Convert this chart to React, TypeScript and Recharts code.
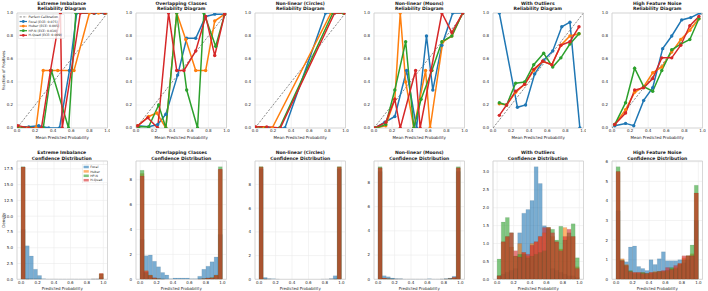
import React from 'react';
import { LineChart, ComposedChart, Line, Bar, XAxis, YAxis, CartesianGrid, ReferenceArea, Label } from 'recharts';

type Pt = [number, number];

const SERIES_NAMES = ['Focal', 'Huber', 'HP-N', 'H-Quad'];
const SERIES_COLORS = ['#1f77b4', '#ff7f0e', '#2ca02c', '#d62728'];
const ECE_LABELS = ['0.075', '0.005', '0.010', '0.009'];
const DATASETS = ['Extreme Imbalance', 'Overlapping Classes', 'Non-linear (Circles)', 'Non-linear (Moons)', 'With Outliers', 'High Feature Noise'];
const REL_TICKS = [0, 0.2, 0.4, 0.6, 0.8, 1.0];
const HIST_X_TICKS = [0, 0.2, 0.4, 0.6, 0.8, 1.0];
const BIN_CENTERS = [0.025, 0.075, 0.125, 0.175, 0.225, 0.275, 0.325, 0.375, 0.425, 0.475, 0.525, 0.575, 0.625, 0.675, 0.725, 0.775, 0.825, 0.875, 0.925, 0.975];
const DIAGONAL: Pt[] = [[0, 0], [1, 1]];

// ---- Reliability curves (mean predicted prob, fraction of positives)
const relImbFocal: Pt[] = [[0.02, 0.01], [0.13, 0.01], [0.24, 0.02], [0.35, 0.0], [0.47, 0.0], [0.58, 0.5], [0.66, 1.0], [0.86, 1.0], [0.96, 1.0]];
const relImbHuber: Pt[] = [[0.02, 0.01], [0.12, 0.0], [0.21, 0.0], [0.29, 0.5], [0.45, 0.5], [0.63, 0.5], [0.8, 1.0], [0.9, 1.0], [0.98, 1.0]];
const relImbHPN: Pt[] = [[0.01, 0.01], [0.14, 0.0], [0.29, 0.0], [0.38, 0.5], [0.57, 0.0], [0.65, 1.0], [0.85, 1.0], [0.97, 1.0]];
const relImbHQuad: Pt[] = [[0.01, 0.02], [0.13, 0.0], [0.27, 0.0], [0.37, 0.5], [0.48, 1.0], [0.5, 0.0], [0.7, 1.0], [0.85, 1.0], [0.97, 1.0]];

const relOvlFocal: Pt[] = [[0.02, 0.02], [0.14, 0.01], [0.24, 0.03], [0.33, 0.12], [0.46, 0.46], [0.56, 0.78], [0.66, 0.78], [0.77, 0.97], [0.87, 0.99], [0.98, 0.99]];
const relOvlHuber: Pt[] = [[0.02, 0.02], [0.14, 0.1], [0.23, 0.13], [0.33, 0.0], [0.45, 1.0], [0.55, 0.77], [0.66, 0.5], [0.77, 0.5], [0.87, 0.93], [0.98, 0.99]];
const relOvlHPN: Pt[] = [[0.03, 0.01], [0.14, 0.01], [0.25, 0.2], [0.33, 0.0], [0.45, 1.0], [0.56, 0.33], [0.68, 0.0], [0.75, 1.0], [0.88, 0.71], [0.98, 0.99]];
const relOvlHQuad: Pt[] = [[0.02, 0.02], [0.13, 0.09], [0.24, 0.0], [0.36, 1.0], [0.45, 0.5], [0.53, 0.5], [0.66, 0.67], [0.77, 0.97], [0.87, 0.63], [0.98, 0.99]];

const relCirFocal: Pt[] = [[0.02, 0.0], [0.14, 0.0], [0.33, 0.0], [0.78, 1.0], [0.88, 1.0], [0.98, 1.0]];
const relCirHuber: Pt[] = [[0.02, 0.0], [0.1, 0.0], [0.19, 0.0], [0.84, 1.0], [0.98, 1.0]];
const relCirHPN: Pt[] = [[0.01, 0.0], [0.12, 0.0], [0.27, 0.0], [0.86, 1.0], [0.98, 1.0]];
const relCirHQuad: Pt[] = [[0.01, 0.01], [0.13, 0.01], [0.28, 0.0], [0.88, 1.0], [0.99, 1.0]];

const relMoonFocal: Pt[] = [[0.01, 0.0], [0.12, 0.05], [0.23, 0.1], [0.36, 0.5], [0.47, 0.0], [0.58, 0.8], [0.65, 0.33], [0.75, 0.72], [0.87, 1.0], [0.98, 1.0]];
const relMoonHuber: Pt[] = [[0.02, 0.0], [0.13, 0.02], [0.23, 0.25], [0.29, 1.0], [0.35, 0.4], [0.44, 0.0], [0.57, 0.5], [0.62, 0.0], [0.76, 0.75], [0.86, 0.8], [0.98, 1.0]];
const relMoonHPN: Pt[] = [[0.02, 0.0], [0.13, 0.03], [0.23, 0.33], [0.35, 0.75], [0.44, 0.0], [0.52, 0.25], [0.64, 0.5], [0.75, 0.75], [0.86, 0.8], [0.98, 1.0]];
const relMoonHQuad: Pt[] = [[0.01, 0.0], [0.13, 0.05], [0.23, 0.25], [0.29, 0.0], [0.46, 0.5], [0.51, 0.0], [0.63, 0.5], [0.75, 1.0], [0.86, 0.83], [0.98, 1.0]];

const relOutFocal: Pt[] = [[0.07, 1.0], [0.27, 0.18], [0.36, 0.2], [0.46, 0.47], [0.56, 0.59], [0.66, 0.67], [0.76, 0.88], [0.85, 0.92], [0.96, 0.0]];
const relOutHuber: Pt[] = [[0.07, 0.21], [0.15, 0.2], [0.25, 0.31], [0.35, 0.38], [0.45, 0.5], [0.55, 0.58], [0.65, 0.55], [0.75, 0.72], [0.85, 0.8], [0.95, 0.82]];
const relOutHPN: Pt[] = [[0.07, 0.22], [0.15, 0.2], [0.25, 0.39], [0.35, 0.4], [0.45, 0.55], [0.56, 0.65], [0.66, 0.53], [0.75, 0.61], [0.85, 0.73], [0.95, 0.82]];
const relOutHQuad: Pt[] = [[0.07, 0.11], [0.15, 0.2], [0.25, 0.32], [0.35, 0.38], [0.45, 0.51], [0.55, 0.58], [0.65, 0.55], [0.75, 0.72], [0.85, 0.75], [0.95, 0.88]];

const relNoiseFocal: Pt[] = [[0.03, 0.02], [0.15, 0.04], [0.24, 0.02], [0.35, 0.24], [0.45, 0.35], [0.56, 0.69], [0.66, 0.8], [0.77, 0.94], [0.87, 0.96], [0.97, 1.0]];
const relNoiseHuber: Pt[] = [[0.03, 0.03], [0.15, 0.16], [0.25, 0.31], [0.35, 0.36], [0.45, 0.48], [0.55, 0.53], [0.66, 0.66], [0.76, 0.77], [0.86, 0.85], [0.96, 0.95]];
const relNoiseHPN: Pt[] = [[0.03, 0.03], [0.15, 0.22], [0.25, 0.52], [0.35, 0.36], [0.45, 0.32], [0.55, 0.5], [0.66, 0.68], [0.76, 0.73], [0.86, 0.77], [0.96, 0.95]];
const relNoiseHQuad: Pt[] = [[0.03, 0.03], [0.15, 0.13], [0.25, 0.33], [0.35, 0.35], [0.45, 0.43], [0.55, 0.61], [0.66, 0.61], [0.76, 0.72], [0.86, 0.89], [0.96, 0.97]];

// ---- Confidence histograms (density per 0.05 bin)
const histImbFocal = [7.9, 5.3, 3.7, 1.6, 0.6, 0.1, 0.05, 0.05, 0.05, 0.03, 0.03, 0.03, 0.05, 0.03, 0.03, 0.03, 0.03, 0.03, 0.05, 0.3];
const histImbHuber = [17.8, 0.05, 0.02, 0.02, 0.01, 0, 0, 0, 0, 0, 0, 0, 0, 0, 0, 0, 0, 0.01, 0.02, 0.9];
const histImbHPN = [17.85, 0.04, 0.02, 0.01, 0.01, 0, 0, 0, 0, 0, 0, 0, 0, 0, 0, 0, 0, 0.01, 0.02, 0.85];
const histImbHQuad = [17.8, 0.05, 0.02, 0.02, 0.01, 0, 0, 0, 0, 0, 0, 0, 0, 0, 0, 0, 0, 0.01, 0.02, 0.9];

const histOvlFocal = [3.2, 1.9, 1.95, 1.45, 1.0, 0.55, 0.35, 0.05, 0.1, 0.1, 0.1, 0.1, 0.05, 0.05, 0.25, 0.8, 1.05, 1.4, 1.8, 3.6];
const histOvlHuber = [8.5, 0.7, 0.35, 0.1, 0.05, 0.02, 0.01, 0, 0, 0, 0, 0, 0, 0, 0.02, 0.05, 0.1, 0.15, 0.35, 8.8];
const histOvlHPN = [8.75, 0.55, 0.3, 0.1, 0.05, 0.02, 0, 0, 0, 0, 0, 0, 0, 0, 0.01, 0.05, 0.1, 0.12, 0.3, 9.05];
const histOvlHQuad = [8.3, 0.65, 0.3, 0.12, 0.05, 0.02, 0, 0, 0, 0, 0, 0, 0, 0, 0.02, 0.05, 0.1, 0.1, 0.3, 8.85];

const histCirFocal = [9.3, 0.15, 0.05, 0.05, 0.02, 0, 0, 0, 0, 0, 0, 0, 0, 0, 0, 0.02, 0.03, 0.05, 0.3, 9.3];
const histCirHuber = [9.5, 0.02, 0.01, 0, 0, 0, 0, 0, 0, 0, 0, 0, 0, 0, 0, 0, 0, 0.01, 0.02, 9.5];
const histCirHPN = [9.5, 0.02, 0.01, 0, 0, 0, 0, 0, 0, 0, 0, 0, 0, 0, 0, 0, 0, 0.01, 0.02, 9.5];
const histCirHQuad = [9.45, 0.02, 0.01, 0, 0, 0, 0, 0, 0, 0, 0, 0, 0, 0, 0, 0, 0, 0.01, 0.02, 9.45];

const histMoonFocal = [8.9, 0.3, 0.2, 0.1, 0.05, 0.05, 0.02, 0.02, 0.02, 0.02, 0.02, 0.02, 0.05, 0.02, 0.02, 0.02, 0.05, 0.1, 0.25, 8.9];
const histMoonHuber = [9.2, 0.1, 0.05, 0.02, 0.01, 0.01, 0, 0, 0, 0, 0, 0, 0, 0, 0, 0.01, 0.02, 0.05, 0.15, 9.2];
const histMoonHPN = [9.3, 0.08, 0.04, 0.02, 0.01, 0, 0, 0, 0, 0, 0, 0, 0, 0, 0, 0, 0.02, 0.04, 0.1, 9.3];
const histMoonHQuad = [9.2, 0.1, 0.05, 0.02, 0.01, 0.01, 0, 0, 0, 0, 0, 0, 0, 0, 0, 0.01, 0.02, 0.05, 0.15, 9.2];

const histOutFocal = [0.1, 0.15, 0.2, 0.25, 0.3, 1.3, 1.85, 1.95, 2.2, 3.15, 2.68, 1.5, 1.4, 0.3, 0.25, 0.2, 0.15, 0.1, 0.1, 0.05];
const histOutHuber = [0.1, 1.05, 1.2, 0.9, 0.65, 1.0, 0.75, 0.65, 1.0, 1.05, 1.2, 1.3, 1.45, 1.2, 1.05, 0.85, 1.45, 1.2, 1.2, 0.35];
const histOutHPN = [0.57, 1.6, 1.73, 1.3, 0.65, 0.7, 0.7, 0.6, 0.65, 0.7, 0.75, 0.8, 1.45, 1.4, 1.1, 1.48, 1.1, 1.3, 1.55, 0.6];
const histOutHQuad = [0.1, 1.05, 1.2, 1.3, 0.8, 0.62, 0.75, 0.7, 0.95, 1.05, 1.2, 1.45, 1.45, 1.3, 1.05, 0.8, 1.2, 1.4, 1.2, 0.3];

const histNoiseFocal = [3.5, 1.0, 0.9, 1.65, 1.7, 0.65, 0.55, 0.45, 1.0, 0.75, 1.05, 1.4, 0.95, 0.95, 0.95, 1.0, 0.85, 1.0, 1.2, 3.0];
const histNoiseHuber = [5.5, 1.05, 0.75, 0.4, 0.35, 0.35, 0.35, 0.3, 0.35, 0.4, 0.4, 0.4, 0.45, 0.55, 0.6, 0.8, 1.1, 1.2, 1.3, 4.4];
const histNoiseHPN = [5.75, 0.95, 0.7, 0.45, 0.3, 0.3, 0.35, 0.3, 0.3, 0.35, 0.4, 0.4, 0.45, 0.6, 0.55, 0.75, 1.0, 1.2, 1.75, 4.8];
const histNoiseHQuad = [5.5, 0.95, 0.7, 0.4, 0.35, 0.35, 0.3, 0.3, 0.35, 0.35, 0.4, 0.45, 0.6, 0.5, 0.7, 0.8, 1.2, 1.2, 1.2, 4.4];

const HIST_Y_TICKS = [
  [0, 2.5, 5, 7.5, 10, 12.5, 15, 17.5],
  [0, 2, 4, 6, 8],
  [0, 2, 4, 6, 8],
  [0, 2, 4, 6, 8],
  [0, 0.5, 1, 1.5, 2, 2.5, 3],
  [0, 1, 2, 3, 4, 5, 6],
];
const HIST_Y_DECIMALS = [1, 0, 0, 0, 1, 0];

const REL_PANELS: Pt[][][] = [
  [relImbFocal, relImbHuber, relImbHPN, relImbHQuad],
  [relOvlFocal, relOvlHuber, relOvlHPN, relOvlHQuad],
  [relCirFocal, relCirHuber, relCirHPN, relCirHQuad],
  [relMoonFocal, relMoonHuber, relMoonHPN, relMoonHQuad],
  [relOutFocal, relOutHuber, relOutHPN, relOutHQuad],
  [relNoiseFocal, relNoiseHuber, relNoiseHPN, relNoiseHQuad],
];
const HIST_PANELS: number[][][] = [
  [histImbFocal, histImbHuber, histImbHPN, histImbHQuad],
  [histOvlFocal, histOvlHuber, histOvlHPN, histOvlHQuad],
  [histCirFocal, histCirHuber, histCirHPN, histCirHQuad],
  [histMoonFocal, histMoonHuber, histMoonHPN, histMoonHQuad],
  [histOutFocal, histOutHuber, histOutHPN, histOutHQuad],
  [histNoiseFocal, histNoiseHuber, histNoiseHPN, histNoiseHQuad],
];

// ---- layout / style
const FONT = 'DejaVu Sans';
const PLOT_L = [16.5, 136, 255, 374, 492.5, 612];
const PLOT_W = 90.5;
const TOP_ROW = { top: 12.5, h: 115 };
const BOT_ROW = { top: 161, h: 118.3 };
const YW = 16;
const MT = 4;
const MR = 3;
const XH = 12;
const TICK_FS = 4.0;
const TITLE_FS = 4.5;
const GRID = '#ebebeb';
const FRAME = '#cccccc';
const tickStyle = { fontSize: TICK_FS, fill: '#262626', fontFamily: FONT };
const labelStyle = { fontSize: TICK_FS, fill: '#262626', fontFamily: FONT };

function Title({ i, top, sub }: { i: number; top: number; sub: string }) {
  return (
    <div style={{ position: 'absolute', left: PLOT_L[i] - 10, width: PLOT_W + 20, top, textAlign: 'center', fontFamily: FONT, fontWeight: 'bold', fontSize: TITLE_FS, lineHeight: '5.8px', color: '#1a1a1a', whiteSpace: 'nowrap' }}>
      <div>{DATASETS[i]}</div>
      <div>{sub}</div>
    </div>
  );
}

function RelPanel({ i }: { i: number }) {
  const w = YW + PLOT_W + MR;
  const h = MT + TOP_ROW.h + XH;
  const lines = REL_PANELS[i];
  return (
    <div style={{ position: 'absolute', left: PLOT_L[i] - YW, top: TOP_ROW.top - MT }}>
      <LineChart width={w} height={h} margin={{ top: MT, right: MR, left: 0, bottom: 0 }}>
        <CartesianGrid stroke={GRID} strokeWidth={0.6} />
        <XAxis type="number" dataKey="x" domain={[0, 1]} ticks={REL_TICKS} allowDataOverflow interval={0}
          tickFormatter={(v: number) => v.toFixed(1)} tick={tickStyle} tickLine={false} axisLine={false}
          tickSize={1} tickMargin={0.6} height={XH}>
          <Label value="Mean Predicted Probability" position="insideBottom" offset={0.8} style={labelStyle} />
        </XAxis>
        <YAxis type="number" domain={[0, 1]} ticks={REL_TICKS} allowDataOverflow interval={0}
          tickFormatter={(v: number) => v.toFixed(1)} tick={tickStyle} tickLine={false} axisLine={false}
          tickSize={3} tickMargin={1} width={YW}>
          {i === 0 ? <Label value="Fraction of Positives" angle={-90} position="insideLeft" offset={2.2} style={{ ...labelStyle, textAnchor: 'middle' }} /> : null}
        </YAxis>
        <ReferenceArea x1={0} x2={1} y1={0} y2={1} fill="none" stroke={FRAME} strokeWidth={0.7} />
        <Line data={DIAGONAL.map(([x, y]) => ({ x, y }))} dataKey="y" stroke="#6f6f6f" strokeWidth={0.8}
          strokeDasharray="2.2 1.4" dot={false} isAnimationActive={false} name="Perfect Calibration" />
        {lines.map((pts, k) => (
          <Line key={k} data={pts.map(([x, y]) => ({ x, y }))} dataKey="y" name={SERIES_NAMES[k]}
            stroke={SERIES_COLORS[k]} strokeWidth={1.5} isAnimationActive={false}
            dot={{ r: 1.7, fill: SERIES_COLORS[k], stroke: SERIES_COLORS[k], strokeWidth: 0 }} />
        ))}
      </LineChart>
    </div>
  );
}

function HistPanel({ i }: { i: number }) {
  const w = YW + PLOT_W + MR;
  const h = MT + BOT_ROW.h + XH;
  const series = HIST_PANELS[i];
  const rows = BIN_CENTERS.map((x, b) => ({ x, s0: series[0][b], s1: series[1][b], s2: series[2][b], s3: series[3][b] }));
  const ymax = Math.max(...series.map((s) => Math.max(...s))) * 1.05;
  const dec = HIST_Y_DECIMALS[i];
  return (
    <div style={{ position: 'absolute', left: PLOT_L[i] - YW, top: BOT_ROW.top - MT }}>
      <ComposedChart width={w} height={h} data={rows} margin={{ top: MT, right: MR, left: 0, bottom: 0 }} barCategoryGap={0} barGap={0}>
        <CartesianGrid xAxisId="x0" stroke={GRID} strokeWidth={0.6} />
        <XAxis xAxisId="x0" type="number" dataKey="x" domain={[-0.05, 1.05]} ticks={HIST_X_TICKS} allowDataOverflow interval={0}
          tickFormatter={(v: number) => v.toFixed(1)} tick={tickStyle} tickLine={false} axisLine={false}
          tickSize={1} tickMargin={0.4} height={XH}>
          <Label value="Predicted Probability" position="insideBottom" offset={1.2} style={labelStyle} />
        </XAxis>
        <XAxis xAxisId="x1" type="number" dataKey="x" domain={[-0.05, 1.05]} allowDataOverflow hide />
        <XAxis xAxisId="x2" type="number" dataKey="x" domain={[-0.05, 1.05]} allowDataOverflow hide />
        <XAxis xAxisId="x3" type="number" dataKey="x" domain={[-0.05, 1.05]} allowDataOverflow hide />
        <YAxis type="number" domain={[0, ymax]} ticks={HIST_Y_TICKS[i]} allowDataOverflow interval={0}
          tickFormatter={(v: number) => v.toFixed(dec)} tick={tickStyle} tickLine={false} axisLine={false}
          tickSize={3} tickMargin={1} width={YW}>
          {i === 0 ? <Label value="Density" angle={-90} position="insideLeft" offset={2.2} style={{ ...labelStyle, textAnchor: 'middle' }} /> : null}
        </YAxis>
        {series.map((_, k) => (
          <Bar key={k} xAxisId={`x${k}`} dataKey={`s${k}`} name={SERIES_NAMES[k]} fill={SERIES_COLORS[k]} fillOpacity={0.6}
            stroke="#000" strokeOpacity={0.25} strokeWidth={0.25} isAnimationActive={false} />
        ))}
        <ReferenceArea xAxisId="x0" x1={-0.05} x2={1.05} y1={0} y2={ymax} fill="none" stroke={FRAME} strokeWidth={0.7} />
      </ComposedChart>
    </div>
  );
}

function RelLegend() {
  const rowH = 4.6;
  const labels = ['Perfect Calibration', ...SERIES_NAMES.map((n, k) => `${n} (ECE: ${ECE_LABELS[k]})`)];
  return (
    <svg style={{ position: 'absolute', left: 17.5, top: 13.5 }} width={47} height={25}>
      <rect x={0.3} y={0.3} width={46.2} height={24.2} rx={0.8} fill="#fff" fillOpacity={0.8} stroke="#d0d0d0" strokeWidth={0.4} />
      {labels.map((t, r) => {
        const y = 2.9 + r * rowH;
        const c = r === 0 ? '#6f6f6f' : SERIES_COLORS[r - 1];
        return (
          <g key={r}>
            <line x1={1.6} x2={9} y1={y} y2={y} stroke={c} strokeWidth={r === 0 ? 0.8 : 1.2} strokeDasharray={r === 0 ? '2.2 1.4' : undefined} />
            {r > 0 ? <circle cx={5.3} cy={y} r={1.4} fill={c} /> : null}
            <text x={10.6} y={y} dy="0.35em" fontSize={3.2} fontFamily={FONT} fill="#262626">{t}</text>
          </g>
        );
      })}
    </svg>
  );
}

function HistLegend() {
  const rowH = 4.4;
  return (
    <svg style={{ position: 'absolute', left: 81.5, top: 163.8 }} width={26} height={19.5}>
      <rect x={0.3} y={0.3} width={25.2} height={18.8} rx={0.8} fill="#fff" fillOpacity={0.8} stroke="#d0d0d0" strokeWidth={0.4} />
      {SERIES_NAMES.map((n, r) => {
        const y = 3 + r * rowH;
        return (
          <g key={r}>
            <rect x={1.6} y={y - 1.25} width={5.2} height={2.5} fill={SERIES_COLORS[r]} fillOpacity={0.6} />
            <text x={8.2} y={y} dy="0.35em" fontSize={3.2} fontFamily={FONT} fill="#262626">{n}</text>
          </g>
        );
      })}
    </svg>
  );
}

export default function App() {
  return (
    <div style={{ position: 'absolute', left: 0, top: 0, width: 708, height: 291, background: '#fff', overflow: 'hidden' }}>
      {DATASETS.map((_, i) => (
        <React.Fragment key={i}>
          <Title i={i} top={0.6} sub="Reliability Diagram" />
          <RelPanel i={i} />
          <Title i={i} top={150.1} sub="Confidence Distribution" />
          <HistPanel i={i} />
        </React.Fragment>
      ))}
      <RelLegend />
      <HistLegend />
    </div>
  );
}
